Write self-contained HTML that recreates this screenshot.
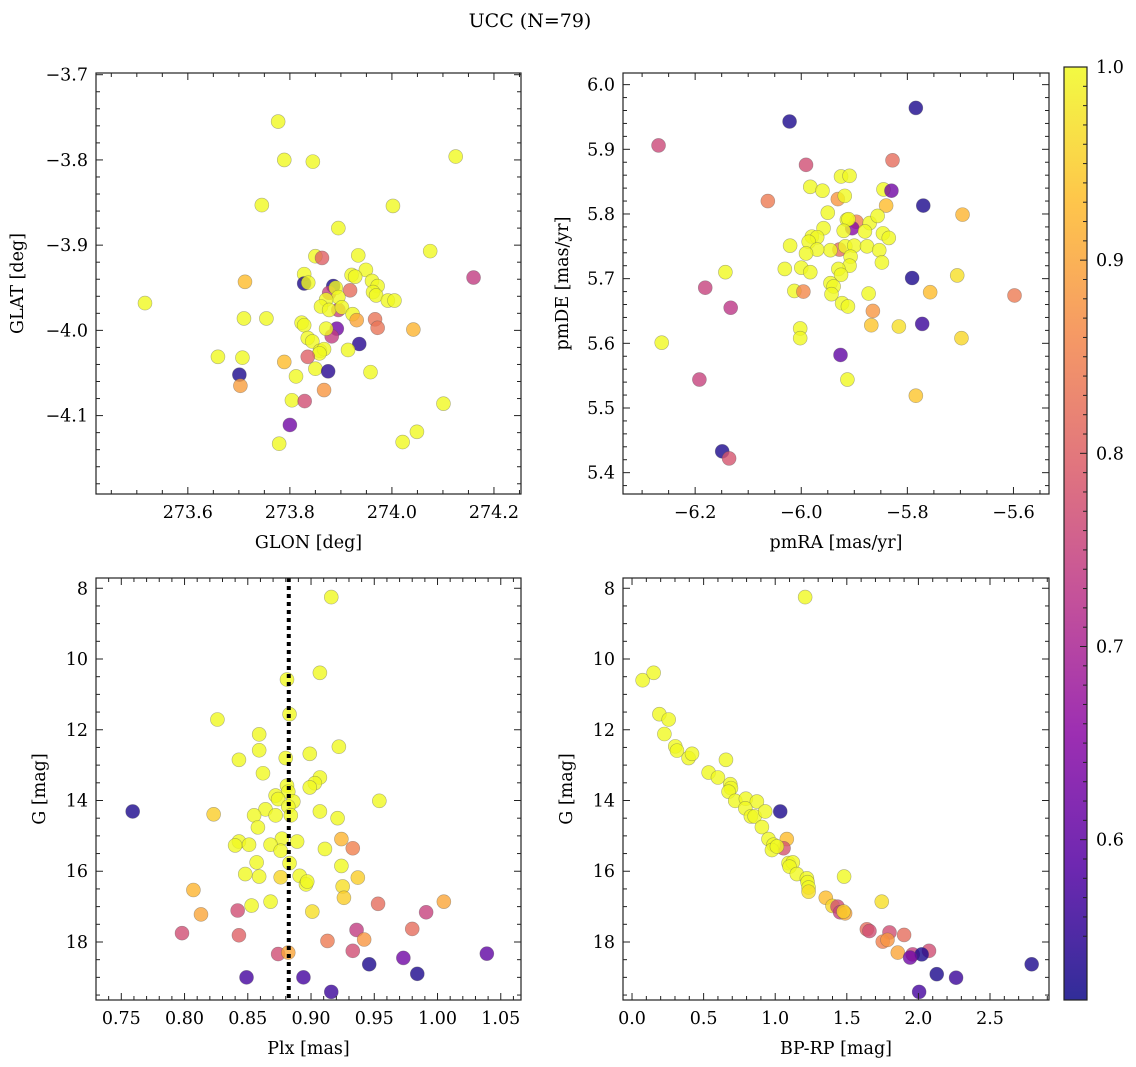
<!DOCTYPE html>
<html><head><meta charset="utf-8">
<style>
html,body{margin:0;padding:0;background:#fff;}
svg{display:block;font-family:"DejaVu Serif","Liberation Serif",serif;}
</style></head>
<body>
<svg id="fig" width="1136" height="1067" viewBox="0 0 1136 1067" xmlns="http://www.w3.org/2000/svg">
<text x="530" y="27" text-anchor="middle" font-size="19">UCC (N=79)</text>
</svg>
<script>
// ---- Panel 1: GLON / GLAT ----
const glon = [273.777,273.789,273.845,274.125,273.745,274.002,273.895,274.075,273.850,273.863,273.934,274.160,273.712,273.828,273.828,273.836,273.949,273.921,273.928,273.961,273.972,273.963,273.969,273.885,273.877,273.918,273.890,273.516,273.895,273.895,273.871,273.861,273.877,273.902,273.992,274.005,273.710,273.754,273.923,273.931,273.967,273.972,274.042,273.823,273.828,273.892,273.882,273.871,273.835,273.844,273.936,273.859,273.867,273.858,273.914,273.659,273.707,273.835,273.789,273.850,273.875,273.958,273.701,273.703,273.812,273.867,273.804,273.829,274.101,273.800,274.049,274.021,273.779];
const glat = [-3.755,-3.800,-3.802,-3.796,-3.853,-3.854,-3.880,-3.907,-3.913,-3.915,-3.912,-3.938,-3.943,-3.934,-3.945,-3.944,-3.929,-3.935,-3.937,-3.942,-3.948,-3.955,-3.959,-3.948,-3.956,-3.953,-3.950,-3.968,-3.976,-3.961,-3.964,-3.972,-3.976,-3.973,-3.965,-3.965,-3.986,-3.986,-3.981,-3.988,-3.987,-3.997,-3.999,-3.991,-3.994,-3.998,-4.007,-3.998,-4.009,-4.013,-4.016,-4.024,-4.022,-4.027,-4.023,-4.031,-4.032,-4.031,-4.037,-4.045,-4.048,-4.049,-4.052,-4.065,-4.054,-4.070,-4.082,-4.083,-4.086,-4.111,-4.119,-4.131,-4.133];
const prob1 = [1.0,1.0,1.0,1.0,1.0,1.0,1.0,1.0,1.0,0.80,1.0,0.74,0.93,1.0,0.53,1.0,1.0,1.0,1.0,1.0,1.0,1.0,1.0,0.53,0.75,0.82,1.0,1.0,0.75,1.0,1.0,1.0,1.0,1.0,1.0,1.0,1.0,1.0,1.0,0.90,0.83,0.83,0.92,1.0,1.0,0.62,0.74,1.0,1.0,1.0,0.54,1.0,1.0,1.0,1.0,1.0,1.0,0.80,0.93,1.0,0.54,1.0,0.53,0.89,1.0,0.88,1.0,0.77,1.0,0.62,1.0,1.0,1.0];

// ---- Panel 2: pmRA / pmDE ----
const pmra = [-6.022,-5.784,-6.269,-5.991,-5.828,-5.925,-5.909,-5.983,-5.960,-6.063,-5.931,-5.918,-5.845,-5.830,-5.840,-5.770,-5.696,-5.950,-5.896,-5.904,-5.914,-5.911,-5.920,-5.871,-5.856,-5.880,-5.958,-5.980,-5.970,-5.986,-5.846,-5.835,-6.021,-5.928,-5.945,-5.970,-5.991,-5.917,-5.900,-5.876,-5.853,-5.907,-5.848,-5.909,-6.031,-6.000,-5.983,-6.143,-6.181,-6.133,-5.930,-5.925,-5.945,-5.939,-5.943,-6.013,-5.996,-5.791,-5.706,-5.757,-5.598,-5.873,-5.923,-5.912,-5.865,-5.868,-5.816,-5.772,-6.002,-6.002,-5.698,-6.263,-5.926,-6.192,-5.913,-5.784,-6.149,-6.136];
const pmde = [5.943,5.964,5.906,5.876,5.883,5.858,5.859,5.842,5.836,5.820,5.823,5.828,5.838,5.836,5.813,5.813,5.799,5.802,5.788,5.778,5.791,5.792,5.774,5.786,5.797,5.773,5.778,5.765,5.764,5.757,5.770,5.763,5.751,5.745,5.744,5.745,5.739,5.750,5.751,5.750,5.744,5.734,5.725,5.720,5.715,5.717,5.710,5.710,5.686,5.655,5.715,5.706,5.693,5.688,5.676,5.681,5.680,5.701,5.705,5.679,5.674,5.677,5.662,5.657,5.650,5.628,5.626,5.630,5.623,5.608,5.608,5.601,5.582,5.544,5.544,5.519,5.433,5.422];
const prob2 = [0.53,0.53,0.76,0.77,0.82,1.0,1.0,1.0,1.0,0.84,0.88,1.0,1.0,0.62,0.93,0.53,0.92,1.0,0.85,0.65,1.0,1.0,1.0,1.0,1.0,1.0,1.0,1.0,1.0,1.0,1.0,1.0,1.0,0.82,1.0,1.0,1.0,1.0,1.0,1.0,1.0,1.0,1.0,1.0,1.0,1.0,1.0,1.0,0.75,0.73,1.0,1.0,1.0,1.0,1.0,1.0,0.86,0.53,0.97,0.93,0.84,1.0,1.0,1.0,0.88,0.94,0.97,0.56,1.0,1.0,0.96,1.0,0.60,0.75,1.0,0.94,0.53,0.78];

// ---- Panel 3: Plx / G ----
const plx = [0.916,0.907,0.881,0.883,0.826,0.859,0.922,0.859,0.899,0.843,0.880,0.862,0.907,0.903,0.899,0.881,0.882,0.872,0.874,0.886,0.882,0.954,0.759,0.823,0.864,0.872,0.855,0.884,0.907,0.921,0.858,0.877,0.843,0.840,0.851,0.868,0.876,0.889,0.911,0.924,0.933,0.883,0.857,0.924,0.848,0.859,0.876,0.891,0.896,0.897,0.937,0.925,0.926,0.807,0.868,0.853,0.953,1.005,0.813,0.842,0.901,0.991,0.798,0.843,0.936,0.980,0.913,0.942,0.874,0.882,0.933,1.039,0.973,0.946,0.984,0.849,0.894,0.916];
const gmag3 = [8.25,10.39,10.58,11.56,11.71,12.13,12.48,12.58,12.68,12.85,12.80,13.23,13.35,13.51,13.63,13.58,13.75,13.86,13.96,14.03,14.17,14.01,14.31,14.39,14.25,14.42,14.42,14.42,14.31,14.50,14.76,15.08,15.16,15.27,15.25,15.25,15.42,15.16,15.37,15.09,15.35,15.77,15.75,15.85,16.08,16.15,16.17,16.13,16.37,16.29,16.18,16.43,16.75,16.53,16.86,16.97,16.92,16.86,17.22,17.11,17.14,17.16,17.75,17.81,17.66,17.63,17.97,17.93,18.34,18.30,18.25,18.33,18.45,18.63,18.90,19.00,19.00,19.41];
const prob3 = [1.0,1.0,1.0,1.0,1.0,1.0,1.0,1.0,1.0,1.0,1.0,1.0,1.0,1.0,1.0,1.0,1.0,1.0,1.0,1.0,1.0,1.0,0.53,0.95,1.0,1.0,1.0,1.0,1.0,1.0,1.0,1.0,1.0,1.0,1.0,1.0,1.0,1.0,1.0,0.92,0.85,1.0,1.0,1.0,1.0,1.0,0.96,1.0,1.0,1.0,0.95,0.97,0.95,0.92,1.0,1.0,0.82,0.90,0.90,0.77,0.97,0.75,0.77,0.80,0.74,0.82,0.84,0.88,0.77,0.90,0.77,0.60,0.62,0.53,0.53,0.57,0.57,0.56];
const plxLine = [0.8824];

// ---- Panel 4: BP-RP / G ----
const bprp = [1.209,0.074,0.151,0.191,0.256,0.226,0.302,0.314,0.395,0.419,0.656,0.535,0.600,0.686,0.691,0.674,0.721,0.795,0.872,0.791,0.830,0.856,0.930,1.035,0.907,0.953,1.081,1.058,0.988,0.977,1.012,1.093,1.123,1.100,1.151,1.221,1.226,1.233,1.233,1.481,1.744,1.353,1.400,1.435,1.453,1.488,1.477,1.640,1.658,1.798,1.900,1.751,1.784,1.856,1.960,2.074,2.023,1.942,2.128,2.263,2.005,2.791];
const gmag4 = [8.25,10.60,10.39,11.56,11.71,12.12,12.47,12.59,12.80,12.68,12.85,13.21,13.35,13.54,13.65,13.75,14.01,13.95,14.03,14.22,14.45,14.45,14.31,14.31,14.75,15.09,15.09,15.35,15.25,15.40,15.30,15.77,15.75,15.87,16.08,16.20,16.31,16.46,16.58,16.15,16.86,16.75,16.98,17.00,17.16,17.19,17.14,17.64,17.69,17.73,17.80,17.99,17.94,18.30,18.35,18.25,18.35,18.44,18.91,19.01,19.41,18.63];
const prob4 = [1.0,1.0,1.0,1.0,1.0,1.0,1.0,1.0,1.0,1.0,1.0,1.0,1.0,1.0,1.0,1.0,1.0,1.0,1.0,1.0,1.0,1.0,1.0,0.53,1.0,1.0,0.93,0.78,1.0,1.0,1.0,1.0,1.0,1.0,1.0,1.0,1.0,1.0,0.97,1.0,0.97,0.93,0.96,0.77,0.75,0.90,0.95,0.82,0.77,0.77,0.82,0.85,0.88,0.90,0.75,0.77,0.53,0.62,0.53,0.56,0.57,0.53];

// colorbar ticks
const cbTicks = [0.6,0.7,0.8,0.9,1.0];
const cbMin = 0.517, cbMax = 1.0;

const NS = "http://www.w3.org/2000/svg";
const svg = document.getElementById('fig');
function mk(tag, attrs, parent){
  const e = document.createElementNS(NS, tag);
  for (const k in attrs) e.setAttribute(k, attrs[k]);
  (parent||svg).appendChild(e);
  return e;
}
const plasma = [[13,8,135],[84,2,163],[139,10,165],[185,50,137],[219,92,104],[244,136,73],[254,188,43],[240,249,33]];
function cmap(v){
  let t = (v - cbMin)/(cbMax - cbMin); t = Math.max(0, Math.min(1, t));
  const f = t*(plasma.length-1); const i = Math.min(Math.floor(f), plasma.length-2); const r = f - i;
  const a = plasma[i], b = plasma[i+1];
  return `rgb(${Math.round(a[0]+(b[0]-a[0])*r)},${Math.round(a[1]+(b[1]-a[1])*r)},${Math.round(a[2]+(b[2]-a[2])*r)})`;
}
function fmt(v, dec){ const s = Math.abs(v).toFixed(dec); return (v < -1e-9 ? "\u2212" : "") + s; }

function panel(cfg){
  const {name, x0, x1, y0, y1, xd, yd, xs, ys, ps, xMaj, xMin, yMaj, yMin, xDec, yDec, xlabel, ylabel, ylabX, yinv} = cfg;
  const g = mk('g', {});
  
  
  const sx = v => x0 + (v - xd[0])/(xd[1]-xd[0])*(x1-x0);
  const sy = yinv ? (v => y0 + (v - yd[0])/(yd[1]-yd[0])*(y1-y0)) : (v => y1 - (v - yd[0])/(yd[1]-yd[0])*(y1-y0));
  for (let i = 0; i < xs.length; i++){
    const c = mk('circle', {cx: sx(xs[i]), cy: sy(ys[i]), r: 7, fill: cmap(ps[i]), 'fill-opacity': 0.8, stroke: '#555', 'stroke-opacity': 0.45, 'stroke-width': 0.6}, g);
    
    
  }
  if (cfg.vline){
    const l = mk('line', {x1: sx(cfg.vline[0]), x2: sx(cfg.vline[0]), y1: y0, y2: y1, stroke: '#000', 'stroke-width': 4, 'stroke-dasharray': '4 4'}, g);
    
    
  }
  const fr = mk('rect', {x: x0, y: y0, width: x1-x0, height: y1-y0, fill: 'none', stroke: '#222', 'stroke-width': 1.2}, g);
  
  
  const eps = 1e-9;
  const lo = Math.min(xd[0],xd[1]), hi = Math.max(xd[0],xd[1]);
  for (let v = Math.ceil(lo/xMin - eps)*xMin; v <= hi + eps; v += xMin){
    const isMaj = Math.abs(v/xMaj - Math.round(v/xMaj)) < 1e-6;
    const L = isMaj ? 7 : 4, X = sx(v);
    mk('line', {x1: X, x2: X, y1: y1, y2: y1-L, stroke: '#222', 'stroke-width': 1}, g);
    mk('line', {x1: X, x2: X, y1: y0, y2: y0+L, stroke: '#222', 'stroke-width': 1}, g);
    if (isMaj){
      const t = mk('text', {x: X, y: y1+24, 'text-anchor': 'middle', 'font-size': 17.5}, g);
      t.textContent = fmt(v, xDec);
      
      
    }
  }
  const ylo = Math.min(yd[0],yd[1]), yhi = Math.max(yd[0],yd[1]);
  for (let v = Math.ceil(ylo/yMin - eps)*yMin; v <= yhi + eps; v += yMin){
    const isMaj = Math.abs(v/yMaj - Math.round(v/yMaj)) < 1e-6;
    const L = isMaj ? 7 : 4, Y = sy(v);
    mk('line', {x1: x0, x2: x0+L, y1: Y, y2: Y, stroke: '#222', 'stroke-width': 1}, g);
    mk('line', {x1: x1, x2: x1-L, y1: Y, y2: Y, stroke: '#222', 'stroke-width': 1}, g);
    if (isMaj){
      const t = mk('text', {x: x0-8, y: Y+6, 'text-anchor': 'end', 'font-size': 17.5}, g);
      t.textContent = fmt(v, yDec);
      
      
    }
  }
  const xl = mk('text', {x: (x0+x1)/2, y: y1+54, 'text-anchor': 'middle', 'font-size': 17.5}, g);
  xl.textContent = xlabel;
  
  
  const cy = (y0+y1)/2;
  const yl = mk('text', {x: ylabX, y: cy, 'text-anchor': 'middle', 'font-size': 17.5, transform: `rotate(-90 ${ylabX} ${cy})`}, g);
  yl.textContent = ylabel;
  
  
}

panel({name:'glon-glat-panel', x0:96, x1:521, y0:73, y1:494, xd:[273.420,274.253], yd:[-4.192,-3.698], xs:glon, ys:glat, ps:prob1, xMaj:0.2, xMin:0.05, yMaj:0.1, yMin:0.02, xDec:1, yDec:1, xlabel:'GLON [deg]', ylabel:'GLAT [deg]', ylabX:23});
panel({name:'pm-panel', x0:623, x1:1049, y0:73, y1:494, xd:[-6.336,-5.533], yd:[5.367,6.018], xs:pmra, ys:pmde, ps:prob2, xMaj:0.2, xMin:0.05, yMaj:0.1, yMin:0.02, xDec:1, yDec:1, xlabel:'pmRA [mas/yr]', ylabel:'pmDE [mas/yr]', ylabX:568});
panel({name:'plx-g-panel', x0:96, x1:521, y0:578, y1:1000, xd:[0.730,1.066], yd:[7.71,19.64], yinv:true, xs:plx, ys:gmag3, ps:prob3, xMaj:0.05, xMin:0.01, yMaj:2, yMin:0.5, xDec:2, yDec:0, xlabel:'Plx [mas]', ylabel:'G [mag]', ylabX:45, vline:plxLine});
panel({name:'cmd-panel', x0:623, x1:1049, y0:578, y1:1000, xd:[-0.063,2.912], yd:[7.71,19.64], yinv:true, xs:bprp, ys:gmag4, ps:prob4, xMaj:0.5, xMin:0.1, yMaj:2, yMin:0.5, xDec:1, yDec:0, xlabel:'BP-RP [mag]', ylabel:'G [mag]', ylabX:572});

// colorbar
const cbX = 1064, cbW = 23, cbY0 = 67, cbY1 = 1000;
const cb = mk('g', {});


const defs = mk('defs', {});
const grad = mk('linearGradient', {id: 'pl', x1: 0, y1: 1, x2: 0, y2: 0}, defs);
for (let i = 0; i < plasma.length; i++){
  const c = plasma[i];
  mk('stop', {offset: i/(plasma.length-1), 'stop-color': `rgb(${c[0]},${c[1]},${c[2]})`, 'stop-opacity': 0.85}, grad);
}
mk('rect', {x: cbX, y: cbY0, width: cbW, height: cbY1-cbY0, fill: 'url(#pl)', stroke: '#222', 'stroke-width': 1.2}, cb);
const cby = v => cbY1 - (v - cbMin)/(cbMax - cbMin)*(cbY1-cbY0);
for (let v = 0.55; v <= 1.0001; v += 0.01){
  const maj = Math.abs(v*10 - Math.round(v*10)) < 1e-6;
  const Y = cby(v);
  if (Y > cbY1) continue;
  mk('line', {x1: cbX+cbW, x2: cbX+cbW-(maj?7:4), y1: Y, y2: Y, stroke: '#222', 'stroke-width': 1}, cb);
}
for (const v of cbTicks){
  const t = mk('text', {x: cbX+cbW+9, y: cby(v)+6, 'font-size': 17.5}, cb);
  t.textContent = v.toFixed(1);
  
  
}
</script>
</body></html>
